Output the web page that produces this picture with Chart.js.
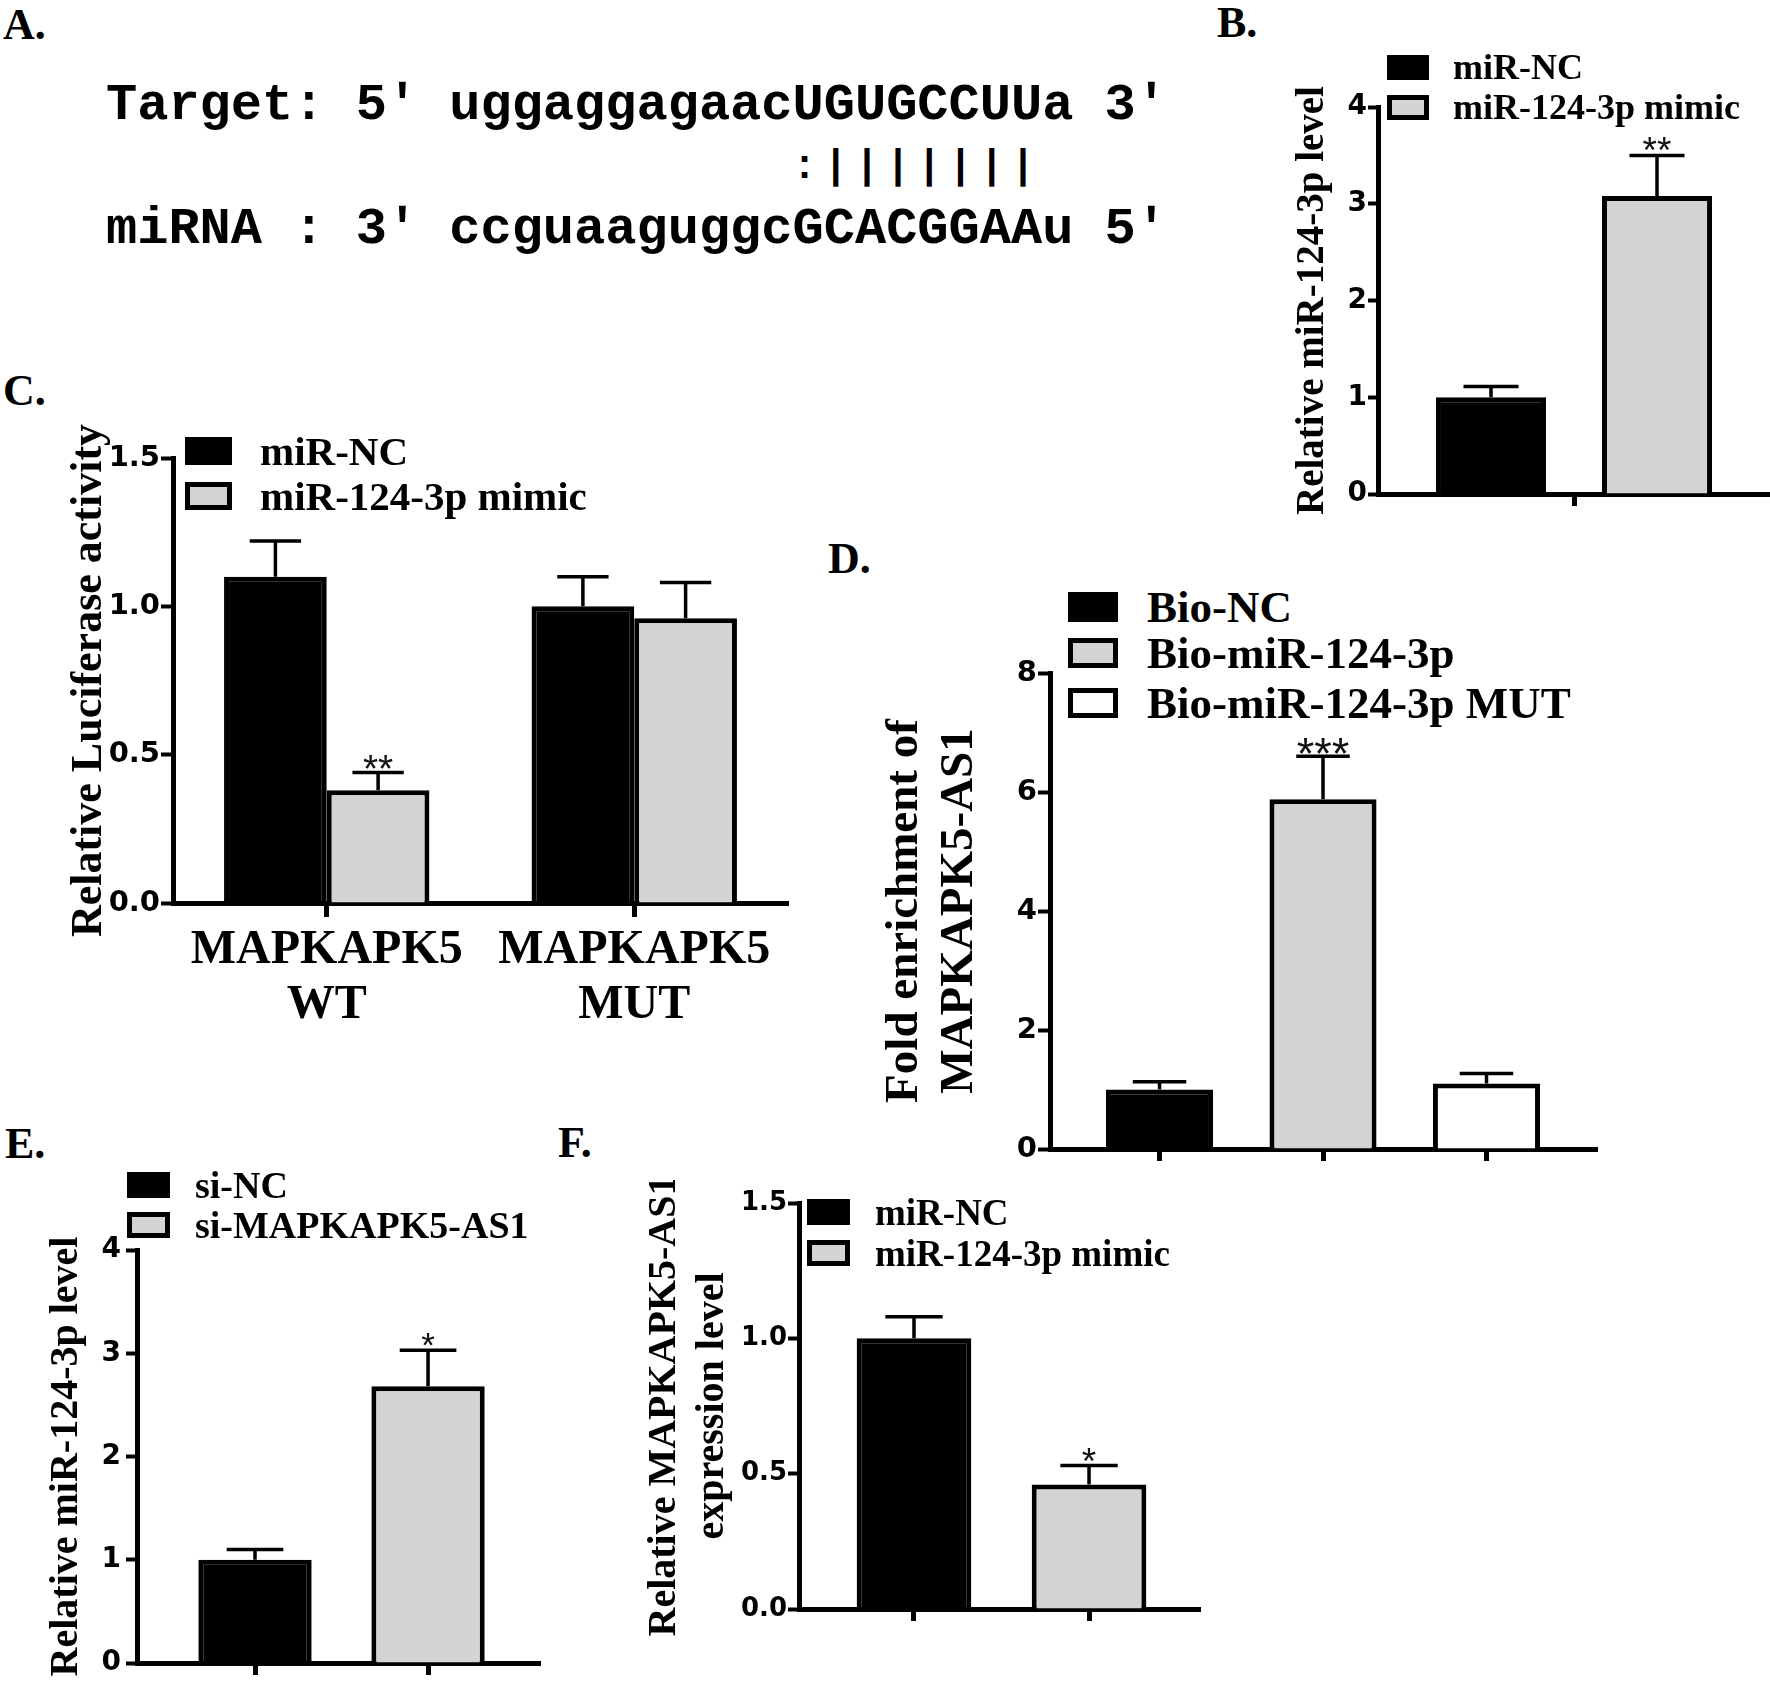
<!DOCTYPE html>
<html><head><meta charset="utf-8">
<script src="https://cdn.jsdelivr.net/npm/chart.js@4.4.1/dist/chart.umd.min.js"></script>
<style>
html,body{margin:0;padding:0;background:#fff;}
#root{position:relative;width:1770px;height:1690px;overflow:hidden;background:#fff;}
canvas{position:absolute;z-index:1;}
.t{position:absolute;white-space:pre;color:#000;z-index:2;}
.serif{font-family:'Liberation Serif','Times New Roman',serif;font-weight:bold;}
.mono{font-family:'Liberation Mono','Courier New',monospace;font-weight:bold;}
.box{position:absolute;box-sizing:border-box;border:5px solid #000;z-index:2;}
</style></head>
<body><div id="root"></div>
<script>
// ---------------- DATA ----------------
// Panel A: sequence alignment
const seqTarget = "Target: 5' uggaggagaacUGUGCCUUa 3'";
const seqPair   = "                      :|||||||";
const seqMiRNA  = "miRNA : 3' ccguaaguggcGCACGGAAu 5'";
const panelLetters = ['A.', 'B.', 'C.', 'D.', 'E.', 'F.'];

// Panel B
const categoriesB = [''];
const seriesB = ['miR-NC', 'miR-124-3p mimic'];
const valuesB = [[1.0], [3.08]];
const errorsB = [[0.11], [0.42]];
const starsB = [[''], ['**']];
const yTicksB = ['0', '1', '2', '3', '4'];
const yTitleB = 'Relative miR-124-3p level';

// Panel C
const categoriesC = [['MAPKAPK5', 'WT'], ['MAPKAPK5', 'MUT']];
const seriesC = ['miR-NC', 'miR-124-3p mimic'];
const valuesC = [[1.1, 1.0], [0.38, 0.96]];
const errorsC = [[0.12, 0.10], [0.06, 0.12]];
const starsC = [['', ''], ['**', '']];
const yTicksC = ['0.0', '0.5', '1.0', '1.5'];
const yTitleC = 'Relative Luciferase activity';

// Panel D
const categoriesD = ['Bio-NC', 'Bio-miR-124-3p', 'Bio-miR-124-3p MUT'];
const valuesD = [1.0, 5.88, 1.1];
const errorsD = [0.13, 0.72, 0.17];
const starsD = ['', '***', ''];
const yTicksD = ['0', '2', '4', '6', '8'];
const yTitleD = ['Fold enrichment of', 'MAPKAPK5-AS1'];

// Panel E
const categoriesE = ['si-NC', 'si-MAPKAPK5-AS1'];
const valuesE = [1.0, 2.68];
const errorsE = [0.10, 0.35];
const starsE = ['', '*'];
const yTicksE = ['0', '1', '2', '3', '4'];
const yTitleE = 'Relative miR-124-3p level';

// Panel F
const categoriesF = ['miR-NC', 'miR-124-3p mimic'];
const valuesF = [1.0, 0.46];
const errorsF = [0.08, 0.07];
const starsF = ['', '*'];
const yTicksF = ['0.0', '0.5', '1.0', '1.5'];
const yTitleF = ['Relative MAPKAPK5-AS1', 'expression level'];

// ---------------- STYLE ----------------
const SERIF = "'Liberation Serif', 'Times New Roman', serif";
const SANS = "'Liberation Sans', Arial, sans-serif";
const TICKFONT = "'DejaVu Sans', Verdana, sans-serif";
const BLACK = '#000000', GRAY = '#d3d3d3', WHITE = '#ffffff';
const colors2 = [BLACK, GRAY];
const colors3 = [BLACK, GRAY, WHITE];

const root = document.getElementById('root');

function addText(txt, cls, left, top, size, extra) {
  const d = document.createElement('div');
  d.className = 't ' + cls;
  d.textContent = txt;
  d.style.left = left + 'px';
  d.style.top = top + 'px';
  d.style.fontSize = size + 'px';
  d.style.lineHeight = size + 'px';
  if (extra) Object.assign(d.style, extra);
  root.appendChild(d);
  return d;
}

function addLegend(items, cols, L) {
  items.forEach((txt, i) => {
    const cy = L.cy[i];
    const b = document.createElement('div');
    b.className = 'box';
    b.style.left = L.bx + 'px';
    b.style.top = (cy - L.bh / 2) + 'px';
    b.style.width = L.bw + 'px';
    b.style.height = L.bh + 'px';
    b.style.background = cols[i];
    root.appendChild(b);
    addText(txt, 'serif', L.tx, cy - L.fs / 2, L.fs);
  });
}

// ---------------- PANEL A (text) ----------------
const letterPos = [[3, 3], [1217, 1], [3, 369], [828, 537], [5, 1122], [558, 1121]];
panelLetters.forEach((l, i) => addText(l, 'serif', letterPos[i][0], letterPos[i][1], 44));
addText(seqTarget, 'mono', 106, 80, 52);
addText(seqPair, 'mono', 106, 148, 40, {letterSpacing: '7.2px'});
addText(seqMiRNA, 'mono', 106, 204, 52);

// ---------------- ERROR BAR PLUGIN ----------------
const errorBarPlugin = {
  id: 'errbars',
  afterDatasetsDraw(chart, args, opts) {
    const ctx = chart.ctx;
    const ys = chart.scales.y;
    chart.data.datasets.forEach((ds, di) => {
      if (!ds.errors) return;
      const meta = chart.getDatasetMeta(di);
      meta.data.forEach((bar, i) => {
        const raw = ds.data[i];
        const v = (raw !== null && typeof raw === 'object') ? raw.y : raw;
        if (v === null || v === undefined) return;
        const e = ds.errors[i];
        const p = bar.getProps(['x', 'y', 'width'], true);
        const yTop = ys.getPixelForValue(v + e);
        const half = p.width * opts.capRatio / 2;
        ctx.save();
        ctx.strokeStyle = '#000';
        ctx.lineWidth = opts.lineWidth;
        ctx.lineCap = 'butt';
        ctx.beginPath();
        ctx.moveTo(p.x, p.y);
        ctx.lineTo(p.x, yTop);
        ctx.moveTo(p.x - half, yTop);
        ctx.lineTo(p.x + half, yTop);
        ctx.stroke();
        const s = ds.stars ? ds.stars[i] : '';
        if (s) {
          ctx.fillStyle = '#111';
          ctx.font = opts.starSize + 'px ' + SANS;
          ctx.textAlign = 'center';
          ctx.textBaseline = 'alphabetic';
          ctx.fillText(s, p.x, yTop - opts.starGap + 0.57 * opts.starSize);
        }
        ctx.restore();
      });
    });
  }
};
Chart.register(errorBarPlugin);

// ---------------- HELPERS ----------------
function makeCanvas(L) {
  const cv = document.createElement('canvas');
  cv.width = L.w; cv.height = L.h;
  cv.style.left = L.x + 'px';
  cv.style.top = L.y + 'px';
  cv.style.width = L.w + 'px';
  cv.style.height = L.h + 'px';
  root.appendChild(cv);
  return cv;
}

function yScale(max, step, labels, title, L) {
  return {
    type: 'linear', min: 0, max: max,
    ticks: {
      stepSize: step, color: '#000', padding: L.tickPad,
      font: {family: TICKFONT, size: L.tickSize, weight: 'bold'},
      callback: (v, i) => labels[i]
    },
    grid: {display: true, drawOnChartArea: false, drawTicks: true, tickLength: L.tl, tickWidth: 4, tickColor: '#000', color: '#000'},
    border: {display: true, color: '#000', width: 5},
    title: {
      display: true, text: title, color: '#000',
      font: {family: SERIF, size: L.titleSize, weight: 'bold', lineHeight: L.titleLH},
      padding: {top: L.titlePad, bottom: 0}
    },
    afterFit: s => { s.width = L.yW; }
  };
}

function xGrid(tl) {
  return {display: true, offset: false, drawOnChartArea: false, drawTicks: true, tickLength: tl, tickWidth: 5, tickColor: '#000', color: '#000'};
}

function baseOptions(L) {
  return {
    responsive: false, animation: false, devicePixelRatio: 1,
    layout: {autoPadding: false, padding: L.pad},
    plugins: {
      legend: {display: false}, tooltip: {enabled: false},
      errbars: {capRatio: 0.5, lineWidth: 3.5, starSize: L.starSize, starGap: 13}
    }
  };
}

// ---------------- PANEL B ----------------
const LB = {x: 1280, y: 80, w: 490, h: 450, pad: {left: 0, right: 0, top: 27, bottom: 16}, yW: 98, xH: 20,
  tickSize: 28, tl: 10, tickPad: 1, titleSize: 39, titleLH: 1.2, titlePad: 9.6, starSize: 37};
(function () {
  const o = baseOptions(LB);
  o.scales = {
    x: {type: 'category', offset: true, grid: xGrid(12), border: {display: true, color: '#000', width: 5},
        ticks: {display: false}, afterFit: s => { s.height = LB.xH; }},
    y: yScale(4, 1, yTicksB, yTitleB, LB)
  };
  new Chart(makeCanvas(LB), {
    type: 'bar',
    data: {
      labels: categoriesB,
      datasets: seriesB.map((name, i) => ({
        label: name, data: valuesB[i], errors: errorsB[i], stars: starsB[i],
        backgroundColor: colors2[i], borderColor: '#000', borderWidth: 5,
        categoryPercentage: 0.847, barPercentage: 0.663
      }))
    },
    options: o
  });
})();
addLegend(seriesB, colors2, {bx: 1387, bw: 42, bh: 25, cy: [67, 107], tx: 1453, fs: 36});

// ---------------- PANEL C ----------------
const LC = {x: 30, y: 420, w: 770, h: 620, pad: {left: 0, right: 12, top: 38, bottom: 6}, yW: 143, xH: 131,
  tickSize: 29, tl: 12, tickPad: 1, titleSize: 44, titleLH: 1.2, titlePad: 33.6, starSize: 39};
(function () {
  const o = baseOptions(LC);
  o.scales = {
    x: {type: 'category', offset: true, grid: xGrid(14), border: {display: true, color: '#000', width: 5},
        ticks: {display: true, color: '#000', padding: 6, maxRotation: 0, autoSkip: false,
                font: {family: SERIF, size: 48, weight: 'bold', lineHeight: 1.146}},
        afterFit: s => { s.height = LC.xH; }},
    y: yScale(1.5, 0.5, yTicksC, yTitleC, LC)
  };
  new Chart(makeCanvas(LC), {
    type: 'bar',
    data: {
      labels: categoriesC,
      datasets: seriesC.map((name, i) => ({
        label: name, data: valuesC[i], errors: errorsC[i], stars: starsC[i],
        backgroundColor: colors2[i], borderColor: '#000', borderWidth: 5,
        categoryPercentage: 0.668, barPercentage: 1.0
      }))
    },
    options: o
  });
})();
addLegend(seriesC, colors2, {bx: 185, bw: 47, bh: 28, cy: [451, 496], tx: 260, fs: 41});

// ---------------- single-series panels (D, E, F) ----------------
function singleSeriesChart(L, cats, vals, errs, stars, cols, yMax, yStep, yTicks, yTitle) {
  const positions = cats.map((_, i) => i);
  const o = baseOptions(L);
  o.scales = {
    x: {type: 'linear', min: L.xMin, max: L.xMax, offset: false,
        afterBuildTicks: s => { s.ticks = positions.map(v => ({value: v})); },
        grid: xGrid(12), border: {display: true, color: '#000', width: 5},
        ticks: {display: false}, afterFit: s => { s.height = L.xH; }},
    y: yScale(yMax, yStep, yTicks, yTitle, L)
  };
  new Chart(makeCanvas(L), {
    type: 'bar',
    data: {
      datasets: [{
        label: yTitle, data: vals.map((v, i) => ({x: positions[i], y: v})),
        errors: errs, stars: stars,
        backgroundColor: cols, borderColor: '#000', borderWidth: 5,
        categoryPercentage: 1.0, barPercentage: 0.655
      }]
    },
    options: o
  });
}

const LD = {x: 860, y: 650, w: 750, h: 540, pad: {left: 0, right: 13, top: 23, bottom: 21}, yW: 190, xH: 20,
  tickSize: 29, tl: 12, tickPad: 1, titleSize: 47, titleLH: 1.17, titlePad: 17.5, starSize: 45,
  xMin: -0.670, xMax: 2.676};
singleSeriesChart(LD, categoriesD, valuesD, errorsD, starsD, colors3, 8, 2, yTicksD, yTitleD);
addLegend(categoriesD, colors3, {bx: 1068, bw: 50, bh: 30, cy: [607, 653, 703], tx: 1147, fs: 45});

const LE = {x: 0, y: 1225, w: 560, h: 465, pad: {left: 0, right: 20, top: 25, bottom: 7}, yW: 137, xH: 20,
  tickSize: 28, tl: 11, tickPad: 5, titleSize: 40, titleLH: 1.2, titlePad: 43, starSize: 35,
  xMin: -0.682, xMax: 1.647};
singleSeriesChart(LE, categoriesE, valuesE, errorsE, starsE, colors2, 4, 1, yTicksE, yTitleE);
addLegend(categoriesE, colors2, {bx: 127, bw: 43, bh: 26, cy: [1185, 1225], tx: 195, fs: 38});

const LF = {x: 620, y: 1180, w: 600, h: 470, pad: {left: 0, right: 20, top: 23, bottom: 21}, yW: 179, xH: 20,
  tickSize: 26, tl: 11, tickPad: 1, titleSize: 40, titleLH: 1.2, titlePad: 21, starSize: 37,
  xMin: -0.657, xMax: 1.634};
singleSeriesChart(LF, categoriesF, valuesF, errorsF, starsF, colors2, 1.5, 0.5, yTicksF, yTitleF);
addLegend(categoriesF, colors2, {bx: 807, bw: 43, bh: 26, cy: [1212, 1253], tx: 875, fs: 37});
</script>
</body></html>
